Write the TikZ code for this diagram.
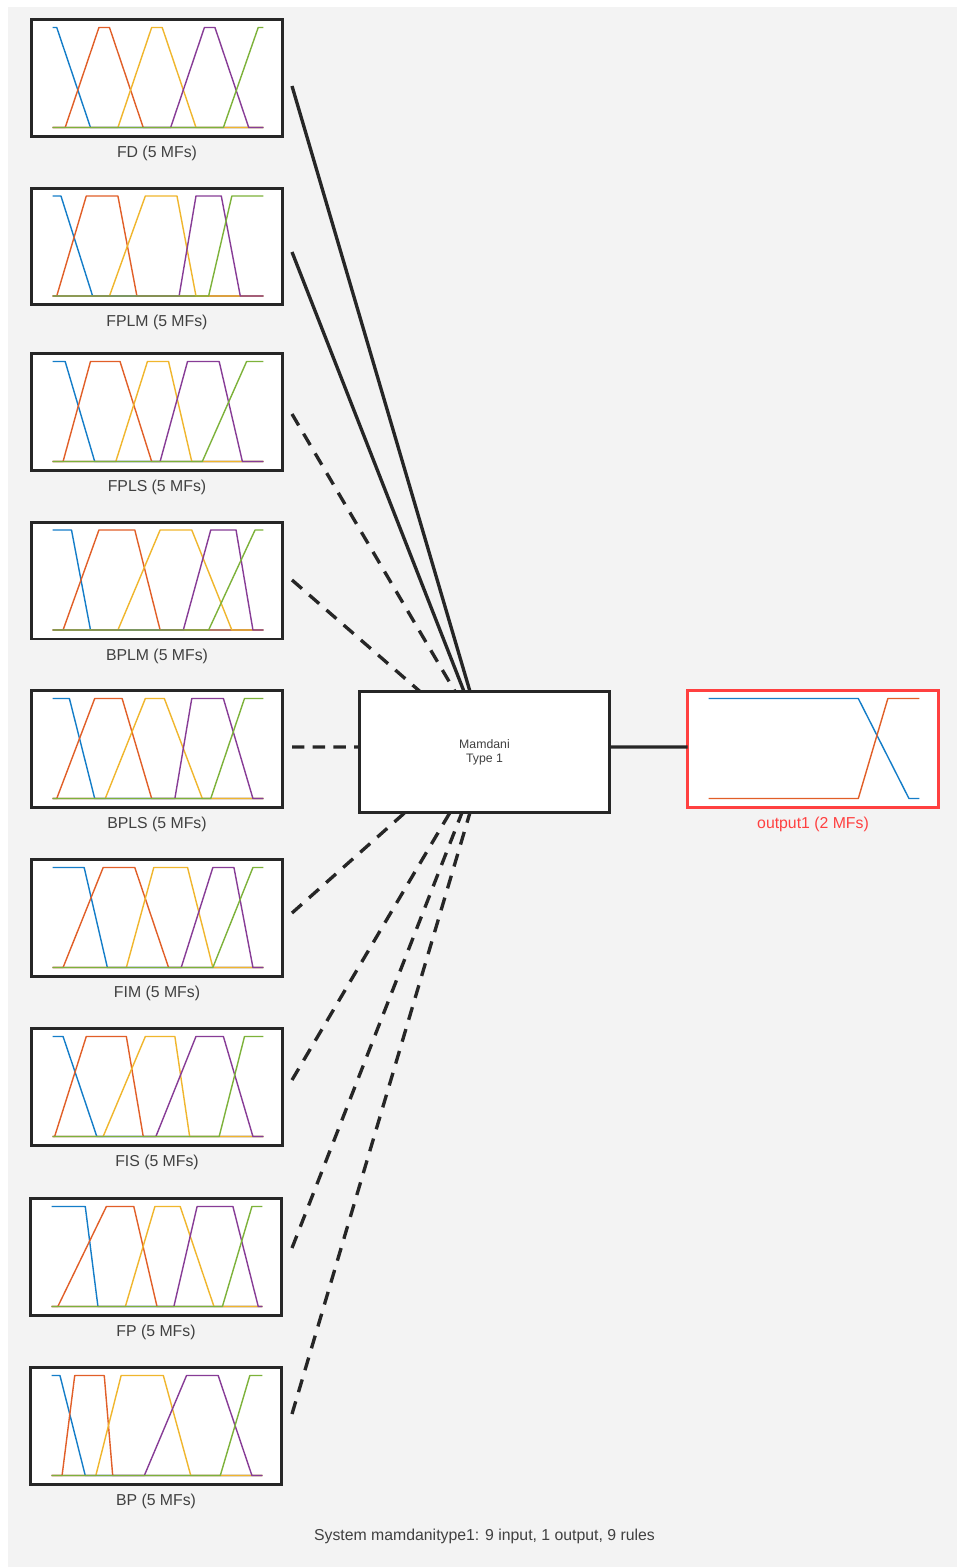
\documentclass[tikz,border=0pt]{standalone}
\usepackage{fontspec}
\setmainfont{Liberation Sans}
\usepackage{tikz}
\usetikzlibrary{positioning}

\definecolor{bggray}{HTML}{F3F3F3}
\definecolor{boxline}{HTML}{262626}
\definecolor{txtgray}{HTML}{404040}
\definecolor{outred}{HTML}{FF4040}
\definecolor{mfblue}{RGB}{20,125,200}
\definecolor{mforange}{RGB}{225,95,40}
\definecolor{mfyellow}{RGB}{240,182,45}
\definecolor{mfpurple}{RGB}{135,60,150}
\definecolor{mfgreen}{RGB}{125,178,58}

\tikzset{
  varbox/.style={draw=boxline, line width=1.7pt, fill=white, outer sep=0pt, inner sep=0pt,
    minimum width=5.02cm, minimum height=2.34cm},
  varlabel/.style={text=txtgray, font=\fontsize{9pt}{11pt}\selectfont, inner sep=0pt, outer sep=0pt},
  mfline/.style={line width=0.8pt, line join=round},
  solidrule/.style={draw=boxline, line width=1.9pt},
  dashedrule/.style={solidrule, dash pattern=on 7.5pt off 5.5pt},
}

% membership functions of one input, drawn inside its box
\newcommand{\mfcurves}[6]{%
  \begin{scope}[shift={(#1.south west)}, shift={(21,-9)}, x=4.22cm, y=2cm]
    \draw[mfline, mfblue] (0,1) -- #2 -- (1,0);
    \draw[mfline, mforange] (0,0) -- #3 -- (1,0);
    \draw[mfline, mfyellow] (0,0) -- #4 -- (1,0);
    \draw[mfline, mfpurple] (0,0) -- #5 -- (1,0);
    \draw[mfline, mfgreen] (0,0) -- #6 -- (1,1);
  \end{scope}}

\begin{document}
\begin{tikzpicture}[x=0.02cm, y=-0.02cm]
    \useasboundingbox (0,0) rectangle (958,1568);
    \fill[white] (0,0) rectangle (958,1568);
    \fill[bggray] (8,7) rectangle (957,1567);

    % inputs
    \node[varbox] (fd) at (157,78) {};
    \node[varbox] (fplm) at (157,246.5) {};
    \node[varbox] (fpls) at (157,412) {};
    \node[varbox] (bplm) at (157,580.5) {};
    \node[varbox] (bpls) at (157,749) {};
    \node[varbox] (fim) at (157,918) {};
    \node[varbox] (fis) at (157,1087) {};
    \node[varbox] (fp) at (156,1257) {};
    \node[varbox] (bp) at (156,1426) {};

    \node[varlabel, below=5.5pt of fd] (fd-l) {FD (5 MFs)};
    \node[varlabel, below=5.5pt of fplm] (fplm-l) {FPLM (5 MFs)};
    \node[varlabel, below=5.5pt of fpls] (fpls-l) {FPLS (5 MFs)};
    \node[varlabel, below=5.5pt of bplm] (bplm-l) {BPLM (5 MFs)};
    \node[varlabel, below=5.5pt of bpls] (bpls-l) {BPLS (5 MFs)};
    \node[varlabel, below=5.5pt of fim] (fim-l) {FIM (5 MFs)};
    \node[varlabel, below=5.5pt of fis] (fis-l) {FIS (5 MFs)};
    \node[varlabel, below=5.5pt of fp] (fp-l) {FP (5 MFs)};
    \node[varlabel, below=5.5pt of bp] (bp-l) {BP (5 MFs)};

    \mfcurves{fd}{(.02,1) -- (.18,0)}{(.06,0) -- (.22,1) -- (.27,1) -- (.43,0)}
      {(.31,0) -- (.47,1) -- (.52,1) -- (.68,0)}{(.56,0) -- (.72,1) -- (.77,1) -- (.93,0)}{(.81,0) -- (.975,1)}
    \mfcurves{fplm}{(.04,1) -- (.19,0)}{(.02,0) -- (.16,1) -- (.31,1) -- (.40,0)}
      {(.27,0) -- (.44,1) -- (.59,1) -- (.68,0)}{(.60,0) -- (.68,1) -- (.80,1) -- (.89,0)}{(.74,0) -- (.85,1)}
    \mfcurves{fpls}{(.06,1) -- (.20,0)}{(.05,0) -- (.18,1) -- (.32,1) -- (.47,0)}
      {(.30,0) -- (.45,1) -- (.55,1) -- (.66,0)}{(.51,0) -- (.64,1) -- (.79,1) -- (.90,0)}{(.71,0) -- (.92,1)}
    \mfcurves{bplm}{(.09,1) -- (.18,0)}{(.05,0) -- (.22,1) -- (.39,1) -- (.51,0)}
      {(.31,0) -- (.51,1) -- (.66,1) -- (.85,0)}{(.62,0) -- (.75,1) -- (.87,1) -- (.95,0)}{(.74,0) -- (.96,1)}
    \mfcurves{bpls}{(.08,1) -- (.20,0)}{(.02,0) -- (.20,1) -- (.33,1) -- (.47,0)}
      {(.25,0) -- (.44,1) -- (.53,1) -- (.71,0)}{(.58,0) -- (.66,1) -- (.81,1) -- (.95,0)}{(.75,0) -- (.91,1)}
    \mfcurves{fim}{(.15,1) -- (.26,0)}{(.05,0) -- (.24,1) -- (.39,1) -- (.55,0)}
      {(.35,0) -- (.48,1) -- (.64,1) -- (.76,0)}{(.61,0) -- (.76,1) -- (.86,1) -- (.95,0)}{(.76,0) -- (.95,1)}
    \mfcurves{fis}{(.05,1) -- (.21,0)}{(.01,0) -- (.16,1) -- (.35,1) -- (.43,0)}
      {(.24,0) -- (.44,1) -- (.58,1) -- (.65,0)}{(.49,0) -- (.68,1) -- (.81,1) -- (.95,0)}{(.79,0) -- (.91,1)}
    \mfcurves{fp}{(.16,1) -- (.22,0)}{(.03,0) -- (.26,1) -- (.39,1) -- (.50,0)}
      {(.35,0) -- (.49,1) -- (.61,1) -- (.77,0)}{(.58,0) -- (.69,1) -- (.86,1) -- (.98,0)}{(.81,0) -- (.95,1)}
    \mfcurves{bp}{(.04,1) -- (.16,0)}{(.05,0) -- (.11,1) -- (.25,1) -- (.29,0)}
      {(.21,0) -- (.33,1) -- (.53,1) -- (.66,0)}{(.44,0) -- (.64,1) -- (.79,1) -- (.95,0)}{(.80,0) -- (.94,1)}

    % rule block and output
    \node[varbox, minimum width=5cm, minimum height=2.42cm, align=center, text=txtgray,
      font=\fontsize{7pt}{8pt}\selectfont] (mamdani) at (484.5,752) {Mamdani\\Type 1};
    \node[varbox, draw=outred] (outmf) at (813,749) {};
    \node[varlabel, text=outred, below=5.5pt of outmf] (outmf-l) {output1 (2 MFs)};
    \begin{scope}[shift={(outmf.south west)}, shift={(21,-9)}, x=4.22cm, y=2cm]
      \draw[mfline, mfblue] (0,1) -- (.71,1) -- (.95,0) -- (1,0);
      \draw[mfline, mforange] (0,0) -- (.71,0) -- (.85,1) -- (1,1);
    \end{scope}

    % connectors
    \coordinate (fd-o) at (292,86);
    \coordinate (fplm-o) at (292,252);
    \coordinate (fpls-o) at (292,414);
    \coordinate (bplm-o) at (292,580);
    \coordinate (bpls-o) at (292,747);
    \coordinate (fim-o) at (292,913);
    \coordinate (fis-o) at (292,1080);
    \coordinate (fp-o) at (292,1248);
    \coordinate (bp-o) at (292,1414);

    \draw[solidrule] (fd-o) -- ([xshift=2.21cm]mamdani.north west);
    \draw[solidrule] (fplm-o) -- ([xshift=2.09cm]mamdani.north west);
    \draw[dashedrule] (fpls-o) -- ([xshift=1.91cm]mamdani.north west);
    \draw[dashedrule] (bplm-o) -- ([xshift=1.21cm]mamdani.north west);
    \draw[solidrule, dash pattern=on 7pt off 4.8pt] (bpls-o) -- ([yshift=0.1cm]mamdani.west);
    \draw[dashedrule] (fim-o) -- ([xshift=0.91cm]mamdani.south west);
    \draw[dashedrule] (fis-o) -- ([xshift=1.81cm]mamdani.south west);
    \draw[dashedrule] (fp-o) -- ([xshift=2.05cm]mamdani.south west);
    \draw[dashedrule] (bp-o) -- ([xshift=2.21cm]mamdani.south west);
    \draw[solidrule] ([yshift=0.1cm]mamdani.east) -- ([yshift=0.04cm]outmf.west);

    \node[varlabel] (caption) at (484.5,1536) {System mamdanitype1: 9 input, 1 output, 9 rules};
\end{tikzpicture}
\end{document}
